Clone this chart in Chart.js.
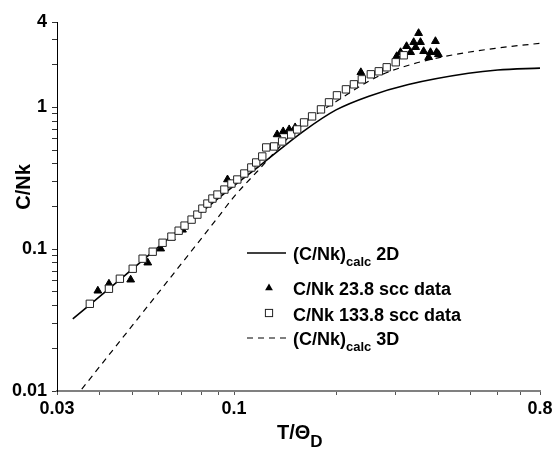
<!DOCTYPE html>
<html>
<head>
<meta charset="utf-8">
<script src="https://cdn.jsdelivr.net/npm/chart.js@4.4.0/dist/chart.umd.min.js"></script>
<style>
  html, body { margin: 0; padding: 0; background: #fff; }
  #wrap { width: 557px; height: 450px; }
</style>
</head>
<body>
<div id="wrap"><canvas id="chart" width="557" height="450"></canvas></div>
<script>
// Calculated curves (x = T/ΘD, y = C/Nk)
const calc2dT = [0.0334, 0.046, 0.0645, 0.0845, 0.1, 0.121, 0.159, 0.2, 0.25, 0.327, 0.492, 0.6, 0.8];
const calc2dC = [0.0323, 0.0609, 0.1206, 0.203, 0.281, 0.40, 0.67, 0.96, 1.20, 1.45, 1.74, 1.835, 1.89];

const calc3dT = [0.0355, 0.0886, 0.1, 0.117, 0.1555, 0.2, 0.267, 0.334, 0.42, 0.59, 0.8];
const calc3dC = [0.0103, 0.162, 0.235, 0.353, 0.722, 1.10, 1.66, 2.01, 2.29, 2.61, 2.83];

// Measured data, 23.8 scc (triangles)
const data238T = [0.0396, 0.0427, 0.0495, 0.0556, 0.0607, 0.0653, 0.0704, 0.0956, 0.134, 0.1396, 0.1454, 0.1514,
  0.2367, 0.302, 0.310, 0.323, 0.332, 0.339, 0.3435, 0.3505, 0.355, 0.3627, 0.3753, 0.380, 0.393, 0.396, 0.401];
const data238C = [0.0509, 0.057, 0.0609, 0.0803, 0.1008, 0.1206, 0.137, 0.31, 0.644, 0.6766, 0.699, 0.722,
  1.767, 2.293, 2.447, 2.698, 2.447, 2.88, 2.655, 3.334, 2.88, 2.487, 2.256, 2.447, 2.927, 2.447, 2.369];

// Measured data, 133.8 scc (open squares)
const data1338T = [0.0375, 0.0427, 0.046, 0.0502, 0.0537, 0.0575, 0.0615, 0.0653, 0.0686, 0.0714, 0.0749, 0.0779,
  0.0806, 0.0834, 0.0863, 0.0893, 0.0936, 0.0982, 0.1022, 0.1072, 0.1124, 0.1162, 0.1211, 0.1244, 0.1313, 0.1386,
  0.1474, 0.1535, 0.1609, 0.1699, 0.1805, 0.1906, 0.2012, 0.2139, 0.2258, 0.2383, 0.2533, 0.2674, 0.2822, 0.3, 0.3168];
const data1338C = [0.0412, 0.0526, 0.0619, 0.0728, 0.0857, 0.096, 0.111, 0.1226, 0.135, 0.1466, 0.1616, 0.1753,
  0.1932, 0.2097, 0.2275, 0.2427, 0.2633, 0.2904, 0.31, 0.3417, 0.3767, 0.4087, 0.4505, 0.5217, 0.5302, 0.575,
  0.6444, 0.699, 0.7834, 0.8638, 0.968, 1.085, 1.216, 1.34, 1.454, 1.577, 1.711, 1.796, 1.917, 2.08, 2.33];

// Axes
const xTicks = [0.03, 0.04, 0.05, 0.06, 0.07, 0.08, 0.09, 0.1, 0.2, 0.3, 0.4, 0.5, 0.6, 0.7, 0.8];
const xTickLabels = ['0.03', '0.1', '0.8'];
const yTicks = [0.01, 0.02, 0.03, 0.04, 0.05, 0.06, 0.07, 0.08, 0.09, 0.1, 0.2, 0.3, 0.4, 0.5, 0.6, 0.7, 0.8, 0.9, 1, 2, 3, 4];
const yTickLabels = ['0.01', '0.1', '1', '4'];

const FONT = "'Liberation Sans', Arial, sans-serif";

const toPoints = (xs, ys) => xs.map((x, i) => ({ x, y: ys[i] }));

// draws a run of text pieces, some of them lowered as subscripts
function drawParts(ctx, parts, x, y) {
    parts.forEach(p => {
        ctx.font = `bold ${p.size}px ${FONT}`;
        ctx.fillText(p.text, x, y + (p.dy || 0));
        x += ctx.measureText(p.text).width;
    });
}

function drawTriangle(ctx, x, y, r) {
    ctx.beginPath();
    ctx.moveTo(x, y - r);
    ctx.lineTo(x + r * 0.866, y + r / 2);
    ctx.lineTo(x - r * 0.866, y + r / 2);
    ctx.closePath();
    ctx.fillStyle = '#000';
    ctx.fill();
}

function drawSquare(ctx, x, y, half) {
    ctx.fillStyle = '#fff';
    ctx.fillRect(x - half, y - half, half * 2, half * 2);
    ctx.strokeStyle = '#222';
    ctx.lineWidth = 1;
    ctx.strokeRect(x - half, y - half, half * 2, half * 2);
}

// Titles and legend (need subscripts, so drawn by hand)
const annotations = {
    id: 'annotations',
    afterDraw(chart) {
        const ctx = chart.ctx;
        ctx.save();
        ctx.textAlign = 'left';
        ctx.textBaseline = 'alphabetic';

        // legend
        ctx.strokeStyle = '#000';
        ctx.lineWidth = 1.6;
        ctx.beginPath();
        ctx.moveTo(247, 253);
        ctx.lineTo(286, 253);
        ctx.stroke();

        drawTriangle(ctx, 269, 288, 4.5);
        drawSquare(ctx, 269, 313, 3.6);

        ctx.strokeStyle = '#000';
        ctx.lineWidth = 1.2;
        ctx.setLineDash([6, 5]);
        ctx.beginPath();
        ctx.moveTo(247, 338);
        ctx.lineTo(286, 338);
        ctx.stroke();
        ctx.setLineDash([]);

        ctx.fillStyle = '#000';
        drawParts(ctx, [
            { text: '(C/Nk)', size: 18 },
            { text: 'calc', size: 13, dy: 6 },
            { text: ' 2D', size: 18 }
        ], 293, 260);
        drawParts(ctx, [{ text: 'C/Nk 23.8 scc data', size: 18 }], 293, 295);
        drawParts(ctx, [{ text: 'C/Nk 133.8 scc data', size: 18 }], 293, 321);
        drawParts(ctx, [
            { text: '(C/Nk)', size: 18 },
            { text: 'calc', size: 13, dy: 6 },
            { text: ' 3D', size: 18 }
        ], 293, 345);

        // x title
        drawParts(ctx, [
            { text: 'T/Θ', size: 20 },
            { text: 'D', size: 17, dy: 8 }
        ], 277, 439);

        // y title
        ctx.translate(30, 187);
        ctx.rotate(-Math.PI / 2);
        ctx.textAlign = 'center';
        ctx.font = `bold 20px ${FONT}`;
        ctx.fillText('C/Nk', 0, 0);

        ctx.restore();
    }
};

const tickFont = { family: FONT, size: 18, weight: 'bold' };

const chart = new Chart(document.getElementById('chart'), {
    type: 'scatter',
    data: {
        datasets: [
            {
                label: '(C/Nk)calc 2D',
                data: toPoints(calc2dT, calc2dC),
                showLine: true,
                borderColor: '#000',
                borderWidth: 1.6,
                pointRadius: 0,
                cubicInterpolationMode: 'monotone',
                order: 2
            },
            {
                label: 'C/Nk 23.8 scc data',
                data: toPoints(data238T, data238C),
                pointStyle: 'triangle',
                pointRadius: 4.5,
                backgroundColor: '#000',
                borderColor: '#000',
                borderWidth: 1,
                order: 1
            },
            {
                label: 'C/Nk 133.8 scc data',
                data: toPoints(data1338T, data1338C),
                pointStyle: 'rect',
                pointRadius: 5.2,
                backgroundColor: '#fff',
                borderColor: '#222',
                borderWidth: 1,
                order: 0
            },
            {
                label: '(C/Nk)calc 3D',
                data: toPoints(calc3dT, calc3dC),
                showLine: true,
                borderColor: '#000',
                borderWidth: 1.2,
                borderDash: [6, 5],
                pointRadius: 0,
                cubicInterpolationMode: 'monotone',
                order: 3
            }
        ]
    },
    options: {
        responsive: false,
        animation: false,
        layout: { padding: { top: 22, right: 17, left: 0, bottom: 0 } },
        plugins: {
            legend: { display: false },
            tooltip: { enabled: false }
        },
        scales: {
            x: {
                type: 'logarithmic',
                min: 0.03,
                max: 0.8,
                afterBuildTicks: scale => { scale.ticks = xTicks.map(v => ({ value: v })); },
                afterFit: scale => { scale.height = 59; },
                border: { color: '#808080', width: 2 },
                grid: { drawOnChartArea: false, drawTicks: true, tickLength: 4, tickColor: '#555' },
                ticks: {
                    autoSkip: false,
                    maxRotation: 0,
                    padding: 3,
                    color: '#000',
                    font: tickFont,
                    callback: v => (xTickLabels.includes(String(v)) ? String(v) : '')
                }
            },
            y: {
                type: 'logarithmic',
                min: 0.01,
                max: 4,
                afterBuildTicks: scale => { scale.ticks = yTicks.map(v => ({ value: v })); },
                afterFit: scale => { scale.width = 57; },
                border: { color: '#000', width: 1 },
                grid: { drawOnChartArea: false, drawTicks: true, tickLength: 5, tickColor: '#333' },
                ticks: {
                    autoSkip: false,
                    padding: 5,
                    color: '#000',
                    font: tickFont,
                    callback: v => (yTickLabels.includes(String(v)) ? String(v) : '')
                }
            }
        }
    },
    plugins: [annotations]
});
</script>
</body>
</html>
